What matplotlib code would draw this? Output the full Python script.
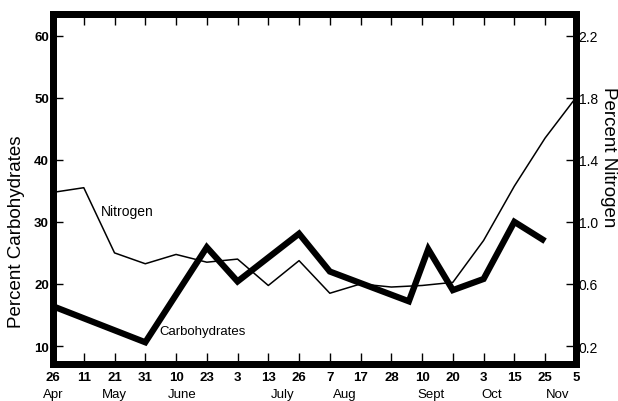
import matplotlib
matplotlib.use("Agg")
import matplotlib.pyplot as plt
import matplotlib.transforms as mtransforms

plt.rcParams['font.family'] = ['Liberation Sans', 'DejaVu Sans']

# ---- data ----
tick_days = ["26", "11", "21", "31", "10", "23", "3", "13", "26",
             "7", "17", "28", "10", "20", "3", "15", "25", "5"]
months = ["Apr", "May", "June", "July", "Aug", "Sept", "Oct", "Nov"]

carb_x = [0, 3, 5, 6, 8, 9, 11.57, 12.2, 13, 14, 15, 16]
carb_pct = [16.4, 10.6, 25.9, 20.4, 28.1, 22.0, 17.2, 25.6, 19.0, 20.8, 30.0, 26.9]

nitro_x = list(range(18))
nitro_pct = [1.19, 1.22, 0.80, 0.73, 0.79, 0.74, 0.76, 0.59, 0.75,
             0.54, 0.60, 0.58, 0.59, 0.61, 0.88, 1.23, 1.54, 1.80]

left_ticks = [10, 20, 30, 40, 50, 60]
right_ticks = [0.2, 0.6, 1.0, 1.4, 1.8, 2.2]

# ---- layout ----
month_pos = [0, 2, 4.2, 7.45, 9.5, 12.3, 14.25, 16.4]
c_lim = (7.1, 63.5)
n_lim = (0.2 + (c_lim[0] - 10) * 0.04, 0.2 + (c_lim[1] - 10) * 0.04)

fig = plt.figure(figsize=(6.18, 4.02), dpi=100)
ax = fig.add_axes([0.0858, 0.092, 0.846, 0.871])
ax2 = ax.twinx()

ax.plot(carb_x, carb_pct, color='black', lw=4.5,
        solid_joinstyle='miter', solid_capstyle='butt', zorder=3)
ax2.plot(nitro_x, nitro_pct, color='black', lw=1.1, zorder=3)

ax.set_xlim(0, 17)
ax.set_ylim(*c_lim)
ax2.set_ylim(*n_lim)

for a in (ax, ax2):
    for s in a.spines.values():
        s.set_linewidth(5)
        s.set_color('black')

ax.set_xticks(range(len(tick_days)))
ax.set_xticklabels(tick_days, fontsize=9.5, fontweight='bold')
ax.tick_params(axis='x', direction='in', length=8, width=1, top=True, pad=5)
ax.set_yticks(left_ticks)
ax.set_yticklabels([str(v) for v in left_ticks], fontsize=9.5, fontweight='bold')
ax.tick_params(axis='y', direction='in', length=7, width=1, pad=3)
ax2.set_yticks(right_ticks)
ax2.set_yticklabels([f"{v:.1f}" for v in right_ticks], fontsize=10)
ax2.tick_params(axis='y', direction='in', length=7, width=1, pad=2)

trans = mtransforms.blended_transform_factory(ax.transData, fig.transFigure)
for m, p in zip(months, month_pos):
    ax.text(p, 0.017, m, transform=trans, ha='center', va='center', fontsize=9.5)

ax.text(1.55, 31.8, "Nitrogen", fontsize=10, ha='left', va='center')
ax.text(3.47, 12.4, "Carbohydrates", fontsize=9.5, ha='left', va='center')

fig.text(0.0275, 0.423, "Percent Carbohydrates", rotation=90,
         ha='center', va='center', fontsize=13.5)
fig.text(0.984, 0.609, "Percent Nitrogen", rotation=270,
         ha='center', va='center', fontsize=13.5)

fig.savefig("out.png", dpi=100)
